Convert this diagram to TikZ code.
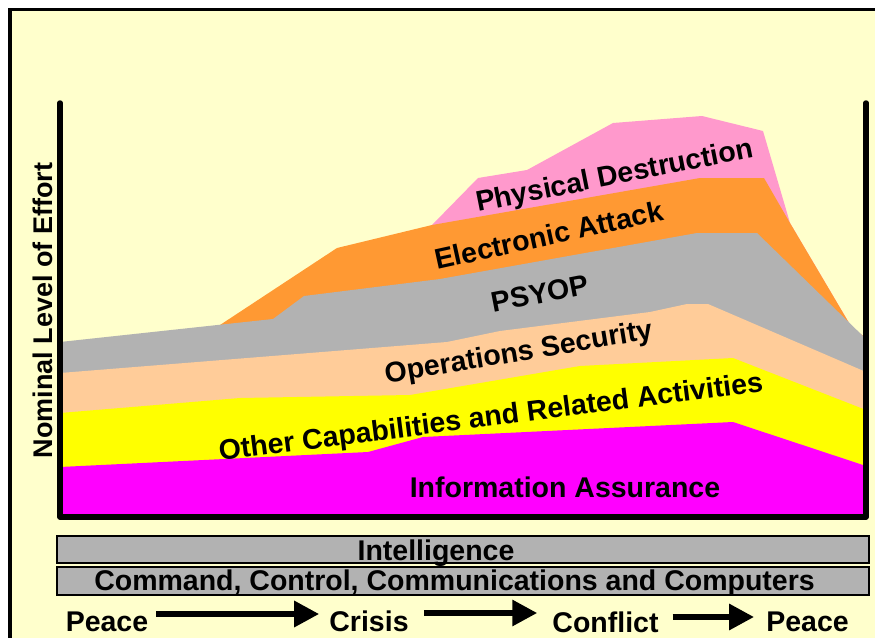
\documentclass[tikz,border=0pt]{standalone}
\usepackage{fontspec}
\setmainfont{Liberation Sans}
\usetikzlibrary{arrows.meta}
\definecolor{bgyellow}{HTML}{FFFFCC}
\definecolor{pinkc}{HTML}{FF99CC}
\definecolor{orangec}{HTML}{FF9933}
\definecolor{greyc}{HTML}{B2B2B2}
\definecolor{peachc}{HTML}{FFCC99}
\definecolor{yellowc}{HTML}{FFFF00}
\definecolor{magentac}{HTML}{FF00FF}
\tikzset{
  lbl/.style={font=\bfseries\fontsize{28.5}{30}\selectfont, inner sep=0pt, anchor=base},
  axisline/.style={line width=5.5pt, line cap=round, line join=round},
  barbox/.style={draw=black, line width=1.3pt, fill=greyc, inner sep=0pt, minimum width=812pt},
  bigarrow/.style={line width=6pt, -{Triangle[length=25pt,width=25pt]}},
}
\begin{document}
\begin{tikzpicture}[x=1pt,y=-1pt]
\useasboundingbox (0,0) rectangle (875,637);
\clip (0,0) rectangle (875,637);
\fill[white] (0,0) rectangle (875,637);
% frame
\draw[line width=3.5pt, fill=bgyellow] (10,9.5) rectangle (900,660);
% layers
\fill[pinkc] (432,225) -- (478,178) -- (527,170) -- (613,123) -- (702,116) -- (763,131) -- (790,223) -- (852,328) -- (866,338) -- (866,517) -- (432,517) -- cycle;
\fill[orangec] (220,325) -- (337,248) -- (432,225) -- (700,178) -- (764,178) -- (790,223) -- (852,328) -- (866,338) -- (866,517) -- (220,517) -- cycle;
\fill[greyc] (60,342) -- (273,319) -- (304,296) -- (440,279) -- (697,233) -- (757,233) -- (866,339) -- (866,517) -- (60,517) -- cycle;
\fill[peachc] (60,373) -- (447,342) -- (500,331) -- (650,312) -- (687,304) -- (708,304) -- (866,372) -- (866,517) -- (60,517) -- cycle;
\fill[yellowc] (60,413) -- (240,398) -- (410,395) -- (580,366) -- (733,358) -- (866,410) -- (866,517) -- (60,517) -- cycle;
\fill[magentac] (60,467) -- (368,452) -- (423,437) -- (733,422) -- (866,466) -- (866,517) -- (60,517) -- cycle;
% axes
\draw[axisline] (60,103) -- (60,517) -- (866,517) -- (866,103);
% layer labels
\node[lbl, rotate=11.2] (pd) at (616.5,184.5) {Physical Destruction};
\node[lbl, rotate=12.4] (ea) at (551,245) {Electronic Attack};
\node[lbl, rotate=11] (ps) at (542,303) {PSYOP};
\node[lbl, rotate=9.5] (os) at (520,361) {Operations Security};
\node[lbl, rotate=7.3] (oc) at (492,426) {Other Capabilities and Related Activities};
\node[lbl] (ia) at (565,497) {Information Assurance};
\node[lbl, rotate=90, font=\bfseries\fontsize{27}{29}\selectfont] (ylab) at (52,310.5) {Nominal Level of Effort};
% bars
\node[barbox, minimum height=27pt] (intelbar) at (463,549.5) {};
\node[barbox, minimum height=28pt] (c4bar) at (463,581) {};
\node[lbl] (intel) at (436,560) {Intelligence};
\node[lbl] (c4) at (454.5,590) {Command, Control, Communications and Computers};
% phases
\node[lbl] (peaceA) at (107,631) {Peace};
\node[lbl] (crisis) at (369,631) {Crisis};
\node[lbl] (conflict) at (605.5,632) {Conflict};
\node[lbl] (peaceB) at (807.5,631) {Peace};
\draw[bigarrow] ([xshift=8pt,yshift=17pt]peaceA.base east) -- ([xshift=-10pt,yshift=17pt]crisis.base west);
\draw[bigarrow] ([xshift=15pt,yshift=18pt]crisis.base east) -- ([xshift=-15pt,yshift=19pt]conflict.base west);
\draw[bigarrow] ([xshift=14pt,yshift=15pt]conflict.base east) -- ([xshift=-12pt,yshift=14pt]peaceB.base west);
\end{tikzpicture}
\end{document}
